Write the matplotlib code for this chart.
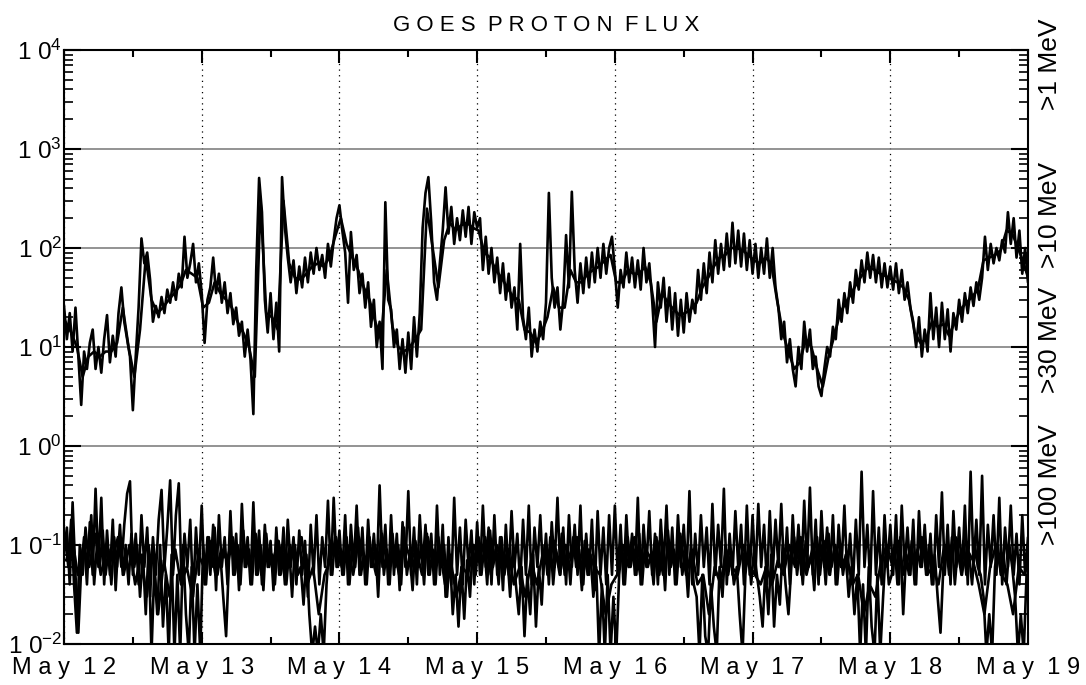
import matplotlib
matplotlib.use('Agg')
import matplotlib.pyplot as plt
import numpy as np

plt.rcParams['font.family'] = ['Liberation Sans', 'DejaVu Sans']

# tick labels / energy channel labels
day_labels = ['May 12', 'May 13', 'May 14', 'May 15', 'May 16', 'May 17', 'May 18', 'May 19']
energy_labels = ['>1 MeV', '>10 MeV', '>30 MeV', '>100 MeV']

# proton flux, one value per 30 min starting May 12 00:00
flux_high = [
    26, 12, 22, 9, 25, 8, 2.6, 9, 6, 11, 15, 6,
    10, 5.5, 12, 21, 7, 13, 8, 22, 40, 18, 12, 8,
    2.3, 8, 25, 125, 70, 90, 48, 18, 26, 20, 32, 22,
    38, 28, 45, 30, 55, 40, 130, 50, 70, 110, 45, 70,
    # May 13
    35, 11, 30, 40, 80, 35, 55, 28, 45, 22, 35, 17,
    25, 13, 18, 8, 15, 7.5, 2.1, 60, 510, 230, 30, 14,
    35, 12, 28, 9, 520, 160, 80, 45, 75, 35, 65, 40,
    80, 45, 90, 55, 100, 60, 85, 50, 110, 65, 120, 200,
    # May 14
    270, 150, 90, 28, 145, 60, 85, 35, 55, 25, 45, 16,
    30, 10, 18, 6, 290, 30, 24, 10, 15, 6, 12, 5.5,
    14, 6, 20, 8, 22, 160, 360, 520, 180, 45, 30, 70,
    150, 410, 140, 260, 110, 200, 120, 240, 130, 260, 110, 230,
    # May 15
    160, 200, 60, 130, 55, 100, 45, 80, 35, 70, 30, 55,
    25, 40, 15, 110, 20, 12, 25, 8, 15, 9, 18, 12,
    28, 360, 50, 25, 40, 15, 30, 135, 40, 370, 60, 28,
    70, 35, 80, 40, 90, 45, 100, 50, 110, 55, 100, 130,
    # May 16
    60, 25, 60, 40, 90, 45, 80, 40, 75, 38, 100, 45,
    70, 30, 10, 45, 25, 50, 18, 40, 15, 35, 13, 30,
    14, 35, 18, 30, 22, 60, 30, 70, 35, 90, 45, 120,
    55, 110, 60, 140, 65, 180, 70, 150, 65, 140, 60, 120,
    # May 17
    55, 110, 50, 100, 55, 125, 50, 100, 40, 25, 12, 18,
    7, 12, 6, 4, 10, 6, 18, 9, 15, 6, 8, 4,
    3.2, 6, 10, 8, 16, 12, 30, 18, 35, 22, 45, 28,
    60, 38, 75, 45, 90, 50, 85, 45, 80, 40, 70, 40,
    # May 18
    65, 38, 70, 35, 60, 30, 45, 25, 18, 10, 20, 8,
    15, 9, 35, 12, 25, 10, 28, 12, 24, 9, 22, 15,
    30, 18, 35, 22, 40, 26, 45, 30, 50, 130, 60, 110,
    70, 100, 75, 120, 90, 230, 110, 200, 80, 150, 55, 100,
    45, 40,
]

# second trace of the same channel, hourly, starting May 12 00:15
flux_high_b = [
    18, 14, 10, 5, 8, 9, 8, 9, 9, 11, 25, 10,
    5, 15, 80, 30, 22, 25, 30, 35, 42, 60, 55, 50,
    25, 28, 45, 35, 30, 25, 18, 14, 10, 5, 300, 22,
    20, 15, 300, 70, 50, 48, 55, 65, 70, 65, 80, 130,
    200, 110, 80, 60, 40, 30, 18, 12, 60, 16, 10, 9,
    10, 12, 15, 250, 100, 40, 120, 180, 150, 170, 180, 160,
    150, 90, 80, 60, 50, 40, 32, 30, 15, 14, 11, 14,
    20, 40, 25, 25, 60, 45, 45, 55, 60, 65, 75, 85,
    45, 45, 60, 55, 55, 65, 45, 18, 35, 28, 24, 21,
    22, 24, 28, 40, 50, 65, 80, 85, 100, 100, 95, 85,
    75, 70, 80, 70, 30, 14, 9, 6, 7, 12, 10, 6,
    4, 8, 13, 22, 28, 35, 45, 55, 65, 60, 55, 52,
    48, 45, 40, 30, 14, 11, 12, 18, 16, 17, 13, 18,
    24, 28, 32, 38, 75, 80, 85, 95, 150, 140, 100, 70,
    45,
]

flux_low_a = [
    0.08, 0.15, 0.04, 0.27, 0.05, 0.013, 0.06, 0.12, 0.04, 0.17, 0.05, 0.37,
    0.06, 0.3, 0.04, 0.14, 0.05, 0.18, 0.035, 0.12, 0.06, 0.16, 0.33, 0.44,
    0.05, 0.13, 0.04, 0.2, 0.06, 0.15, 0.03, 0.12, 0.05, 0.18, 0.36, 0.06,
    0.15, 0.45, 0.05, 0.2, 0.42, 0.04, 0.13, 0.06, 0.18, 0.03, 0.15, 0.05,
    0.25, 0.04, 0.12, 0.05, 0.16, 0.035, 0.2, 0.06, 0.12, 0.04, 0.22, 0.05,
    0.13, 0.035, 0.26, 0.06, 0.12, 0.04, 0.27, 0.05, 0.14, 0.04, 0.16, 0.06,
    0.11, 0.035, 0.15, 0.05, 0.1, 0.04, 0.18, 0.06, 0.12, 0.04, 0.14, 0.05,
    0.11, 0.03, 0.16, 0.05, 0.2, 0.04, 0.12, 0.06, 0.28, 0.05, 0.3, 0.06,
    0.14, 0.05, 0.2, 0.04, 0.16, 0.06, 0.25, 0.05, 0.15, 0.04, 0.18, 0.06,
    0.13, 0.05, 0.4, 0.06, 0.16, 0.04, 0.2, 0.05, 0.13, 0.035, 0.17, 0.06,
    0.35, 0.05, 0.15, 0.04, 0.2, 0.06, 0.16, 0.05, 0.13, 0.04, 0.25, 0.05,
    0.16, 0.03, 0.12, 0.04, 0.3, 0.05, 0.15, 0.04, 0.18, 0.06, 0.14, 0.04,
    0.17, 0.05, 0.25, 0.06, 0.15, 0.04, 0.2, 0.05, 0.12, 0.035, 0.16, 0.05,
    0.22, 0.06, 0.13, 0.04, 0.18, 0.05, 0.25, 0.04, 0.15, 0.06, 0.2, 0.05,
    0.13, 0.04, 0.17, 0.06, 0.3, 0.05, 0.15, 0.04, 0.2, 0.06, 0.16, 0.05,
    0.25, 0.04, 0.13, 0.05, 0.18, 0.035, 0.22, 0.05, 0.15, 0.04, 0.2, 0.05,
    0.25, 0.05, 0.16, 0.04, 0.2, 0.06, 0.13, 0.05, 0.3, 0.04, 0.16, 0.06,
    0.22, 0.05, 0.13, 0.04, 0.18, 0.06, 0.25, 0.05, 0.15, 0.04, 0.2, 0.06,
    0.16, 0.05, 0.35, 0.04, 0.13, 0.05, 0.2, 0.06, 0.15, 0.04, 0.26, 0.05,
    0.16, 0.06, 0.37, 0.04, 0.13, 0.05, 0.22, 0.06, 0.16, 0.04, 0.25, 0.05,
    0.2, 0.05, 0.26, 0.06, 0.16, 0.04, 0.22, 0.05, 0.18, 0.06, 0.26, 0.05,
    0.15, 0.04, 0.2, 0.06, 0.16, 0.05, 0.28, 0.06, 0.38, 0.05, 0.18, 0.04,
    0.22, 0.06, 0.15, 0.05, 0.2, 0.04, 0.16, 0.06, 0.25, 0.05, 0.13, 0.04,
    0.18, 0.05, 0.55, 0.06, 0.16, 0.04, 0.35, 0.05, 0.15, 0.04, 0.2, 0.06,
    0.16, 0.05, 0.2, 0.04, 0.25, 0.06, 0.15, 0.05, 0.18, 0.04, 0.22, 0.06,
    0.16, 0.05, 0.13, 0.04, 0.2, 0.06, 0.34, 0.05, 0.16, 0.04, 0.22, 0.06,
    0.15, 0.05, 0.25, 0.04, 0.55, 0.06, 0.18, 0.05, 0.5, 0.04, 0.16, 0.06,
    0.2, 0.05, 0.3, 0.04, 0.15, 0.06, 0.25, 0.05, 0.13, 0.04, 0.2, 0.05,
    0.12, 0.06,
]

flux_low_b = [
    0.12, 0.06, 0.18, 0.04, 0.013, 0.1, 0.05, 0.15, 0.07, 0.2, 0.04, 0.1,
    0.06, 0.14, 0.05, 0.09, 0.04, 0.12, 0.06, 0.16, 0.05, 0.1, 0.04, 0.13,
    0.06, 0.1, 0.03, 0.08, 0.02, 0.1, 0.008, 0.06, 0.02, 0.1, 0.015, 0.05,
    0.008, 0.08, 0.008, 0.05, 0.008, 0.1, 0.02, 0.008, 0.06, 0.008, 0.04, 0.008,
    0.1, 0.04, 0.12, 0.06, 0.15, 0.05, 0.08, 0.03, 0.012, 0.07, 0.12, 0.05,
    0.1, 0.04, 0.14, 0.06, 0.09, 0.04, 0.12, 0.05, 0.1, 0.035, 0.13, 0.06,
    0.08, 0.04, 0.11, 0.05, 0.15, 0.04, 0.09, 0.03, 0.1, 0.05, 0.06, 0.025,
    0.08, 0.02, 0.008, 0.015, 0.008, 0.02, 0.008, 0.04, 0.1, 0.05, 0.12, 0.06,
    0.09, 0.05, 0.12, 0.04, 0.1, 0.06, 0.15, 0.05, 0.08, 0.04, 0.12, 0.06,
    0.1, 0.03, 0.14, 0.05, 0.09, 0.04, 0.13, 0.06, 0.1, 0.04, 0.15, 0.05,
    0.08, 0.035, 0.11, 0.06, 0.1, 0.04, 0.13, 0.05, 0.09, 0.04, 0.12, 0.06,
    0.1, 0.03, 0.08, 0.02, 0.05, 0.015, 0.06, 0.018, 0.07, 0.03, 0.1, 0.05,
    0.12, 0.05, 0.1, 0.04, 0.14, 0.06, 0.09, 0.04, 0.12, 0.05, 0.08, 0.03,
    0.1, 0.04, 0.02, 0.06, 0.012, 0.05, 0.02, 0.08, 0.015, 0.06, 0.025, 0.1,
    0.05, 0.12, 0.04, 0.09, 0.06, 0.13, 0.05, 0.1, 0.04, 0.12, 0.06, 0.09,
    0.035, 0.11, 0.05, 0.08, 0.03, 0.06, 0.008, 0.04, 0.008, 0.05, 0.008, 0.03,
    0.008, 0.05, 0.1, 0.04, 0.12, 0.06, 0.09, 0.05, 0.13, 0.04, 0.1, 0.06,
    0.08, 0.04, 0.12, 0.05, 0.1, 0.035, 0.14, 0.06, 0.09, 0.04, 0.11, 0.05,
    0.08, 0.03, 0.1, 0.04, 0.03, 0.008, 0.05, 0.012, 0.008, 0.04, 0.015, 0.008,
    0.06, 0.03, 0.1, 0.05, 0.08, 0.04, 0.06, 0.02, 0.008, 0.05, 0.1, 0.04,
    0.09, 0.05, 0.03, 0.015, 0.06, 0.02, 0.08, 0.015, 0.05, 0.025, 0.1, 0.04,
    0.02, 0.06, 0.12, 0.05, 0.09, 0.04, 0.11, 0.06, 0.08, 0.035, 0.12, 0.05,
    0.1, 0.04, 0.13, 0.06, 0.09, 0.04, 0.1, 0.05, 0.08, 0.03, 0.06, 0.02,
    0.05, 0.008, 0.04, 0.008, 0.06, 0.015, 0.008, 0.05, 0.008, 0.03, 0.1, 0.04,
    0.05, 0.1, 0.04, 0.12, 0.02, 0.08, 0.05, 0.11, 0.04, 0.09, 0.06, 0.12,
    0.05, 0.1, 0.04, 0.08, 0.03, 0.013, 0.06, 0.1, 0.05, 0.12, 0.04, 0.09,
    0.06, 0.11, 0.05, 0.08, 0.04, 0.1, 0.06, 0.05, 0.03, 0.008, 0.02, 0.008,
    0.06, 0.1, 0.05, 0.08, 0.04, 0.1, 0.06, 0.03, 0.008, 0.02, 0.008, 0.05,
    0.03, 0.06,
]

# third low-energy trace, hourly
flux_low_c = [
    0.07, 0.12, 0.05, 0.1, 0.06, 0.13, 0.05, 0.09, 0.07, 0.12, 0.05, 0.1,
    0.04, 0.08, 0.03, 0.1, 0.02, 0.07, 0.03, 0.09, 0.04, 0.06, 0.03, 0.08,
    0.06, 0.11, 0.05, 0.09, 0.07, 0.12, 0.05, 0.1, 0.06, 0.13, 0.05, 0.09,
    0.07, 0.11, 0.05, 0.1, 0.06, 0.12, 0.04, 0.06, 0.02, 0.05, 0.07, 0.12,
    0.06, 0.1, 0.05, 0.12, 0.07, 0.09, 0.05, 0.13, 0.06, 0.1, 0.05, 0.11,
    0.07, 0.09, 0.05, 0.12, 0.06, 0.1, 0.04, 0.07, 0.03, 0.06, 0.05, 0.1,
    0.07, 0.12, 0.05, 0.1, 0.06, 0.09, 0.04, 0.06, 0.03, 0.07, 0.04, 0.08,
    0.06, 0.11, 0.05, 0.1, 0.07, 0.12, 0.05, 0.09, 0.06, 0.05, 0.02, 0.04,
    0.05, 0.1, 0.06, 0.12, 0.05, 0.09, 0.07, 0.11, 0.05, 0.1, 0.06, 0.13,
    0.05, 0.09, 0.04, 0.05, 0.02, 0.06, 0.04, 0.09, 0.06, 0.05, 0.1, 0.06,
    0.05, 0.04, 0.06, 0.04, 0.07, 0.05, 0.1, 0.06, 0.12, 0.05, 0.09, 0.07,
    0.11, 0.05, 0.1, 0.06, 0.08, 0.04, 0.05, 0.02, 0.04, 0.03, 0.07, 0.1,
    0.06, 0.11, 0.05, 0.09, 0.07, 0.12, 0.05, 0.06, 0.04, 0.1, 0.06, 0.12,
    0.05, 0.09, 0.07, 0.04, 0.02, 0.06, 0.1, 0.05, 0.04, 0.02, 0.06, 0.05,
    0.08,
]


def spaced(s):
    return '  '.join(' '.join(w) for w in s.split(' '))


t_high = np.arange(len(flux_high)) / 48.0
t_high_b = np.arange(len(flux_high_b)) / 24.0 + 0.25 / 24.0
t_low_a = np.arange(len(flux_low_a)) / 48.0
t_low_b = np.arange(len(flux_low_b)) / 48.0 + 1 / 96.0
t_low_c = np.arange(len(flux_low_c)) / 24.0 + 0.4 / 24.0

fig = plt.figure(figsize=(10.86, 6.85), dpi=100)
ax = fig.add_axes([64 / 1086, 41 / 685, 964 / 1086, 594 / 685])

for t, f in [(t_high, flux_high), (t_high_b, flux_high_b),
             (t_low_a, flux_low_a), (t_low_b, flux_low_b), (t_low_c, flux_low_c)]:
    ax.plot(t, f, color='black', lw=1.9, zorder=3)

ax.set_yscale('log')
ax.set_ylim(1e-2, 1e4)
ax.set_xlim(0, 7)

ax.set_yticks([10.0 ** k for k in range(-2, 5)])
ax.set_yticklabels([r'$\mathregular{1\;0^{%d}}$' % k for k in range(-2, 5)])
ax.set_xticks(range(len(day_labels)))
ax.set_xticklabels([spaced(d) for d in day_labels])
ax.set_xticks(np.arange(0.5, 7, 1), minor=True)

ax.tick_params(axis='y', which='major', direction='in', length=12, width=1.5,
               left=True, right=True, labelsize=17.5, pad=1.5)
ax.tick_params(axis='y', which='minor', direction='in', length=6.5, width=1.2,
               left=True, right=True)
ax.tick_params(axis='x', which='major', direction='in', length=9, width=1.5,
               top=True, bottom=True, labelsize=17, pad=9.5)
ax.tick_params(axis='x', which='minor', direction='in', length=5, width=1.5,
               top=True, bottom=True)

ax.set_axisbelow(True)
ax.yaxis.grid(True, which='major', color='#808080', lw=1.2)
ax.xaxis.grid(True, which='major', color='black', ls=(0, (1, 3.5)), lw=0.9)

for sp in ax.spines.values():
    sp.set_linewidth(1.5)

ax.set_title(spaced('GOES PROTON FLUX'), fontsize=16, pad=14)

for lab, yc in zip(energy_labels, [0.976, 0.722, 0.512, 0.268]):
    ax.text(1.023, yc, lab, transform=ax.transAxes, rotation=90,
            ha='center', va='center', fontsize=19)

fig.savefig('out.png', dpi=100)
